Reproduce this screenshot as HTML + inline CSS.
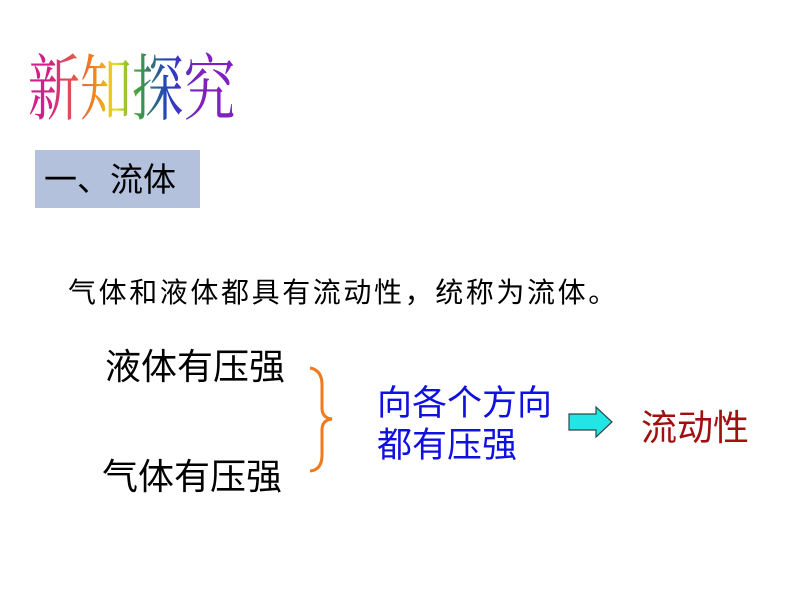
<!DOCTYPE html>
<html><head><meta charset="utf-8"><style>
body{margin:0;width:800px;height:600px;background:#fff;position:relative;overflow:hidden;font-family:"Liberation Sans","Noto Sans CJK SC",sans-serif}
.t{position:absolute;white-space:nowrap;line-height:1}
</style></head><body>
<svg width="800" height="600" style="position:absolute;left:0;top:0">
<defs><linearGradient id="g" x1="28" y1="0" x2="236" y2="0" gradientUnits="userSpaceOnUse">
<stop offset="0" stop-color="#d0208a"/><stop offset="0.3" stop-color="#f08020"/><stop offset="0.45" stop-color="#e8e020"/><stop offset="0.6" stop-color="#40a040"/><stop offset="0.8" stop-color="#2040c0"/><stop offset="1" stop-color="#8020c0"/></linearGradient></defs>
<text x="0" y="0" transform="translate(28,114) scale(0.72,1)" style="font-family:'Noto Serif CJK SC','Noto Serif CJK JP',serif" font-size="72" fill="url(#g)">新知探究</text>
<rect x="35" y="150" width="165" height="58" fill="#b3c1dd"/>
<path d="M310,368 Q322,370 322,385 L322,408 Q322,418 332,419 Q322,420 322,430 L322,455 Q322,470 310,471" fill="none" stroke="#f07a1e" stroke-width="3"/>
<path d="M569,414 L596,414 L596,407 L612,422 L596,437 L596,430 L569,430 Z" fill="#22e6e6" stroke="#2a4a4a" stroke-width="1.2"/>
</svg>
<div class="t" style="left:44px;top:163px;font-size:33px">一、流体</div>
<div class="t" style="left:68px;top:279px;font-size:28px;letter-spacing:2.6px">气体和液体都具有流动性，统称为流体。</div>
<div class="t" style="left:105px;top:349px;font-size:36px">液体有压强</div>
<div class="t" style="left:102px;top:459px;font-size:36px">气体有压强</div>
<div class="t" style="left:377px;top:386px;font-size:35px;color:#1010e0">向各个方向</div>
<div class="t" style="left:377px;top:428px;font-size:35px;color:#1010e0">都有压强</div>
<div class="t" style="left:641px;top:410px;font-size:36px;color:#a01010">流动性</div>
</body></html>
